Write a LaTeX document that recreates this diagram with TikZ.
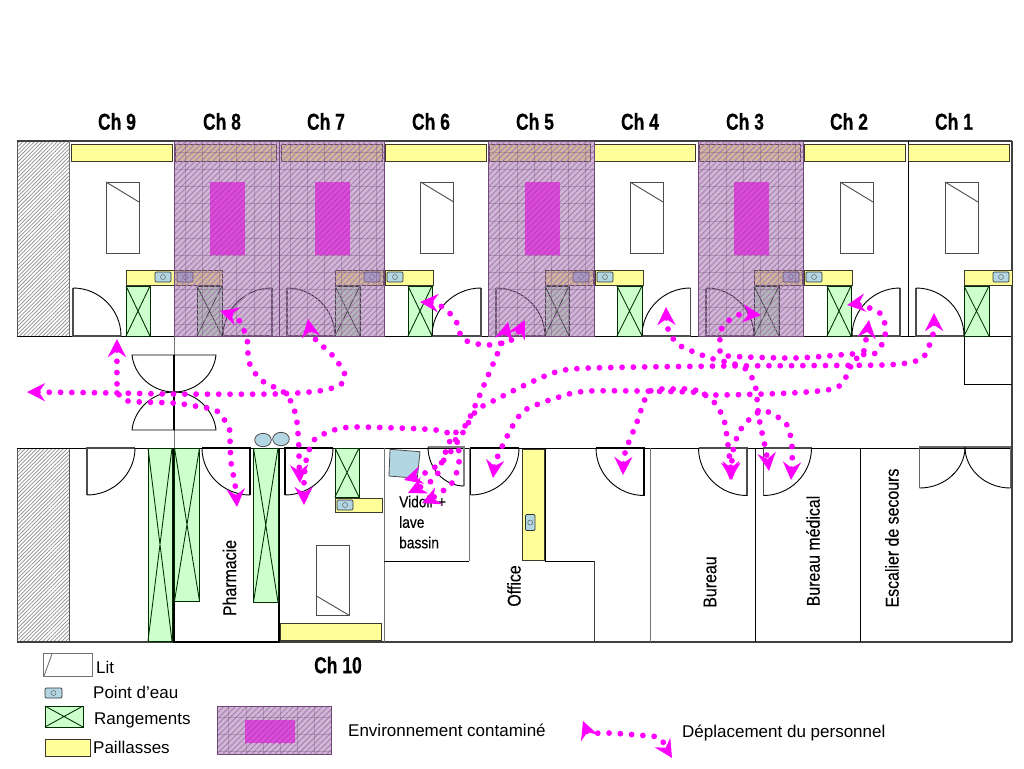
\documentclass[tikz,border=0pt]{standalone}
\usepackage{fontspec}
\setmainfont{Liberation Sans}
\newfontfamily\narrowfont[FakeStretch=.86,FakeBold=.15]{Liberation Sans}
\newfontfamily\titrefont[FakeStretch=.76,FakeBold=.5,UprightFont=* Bold]{Liberation Sans}
\usetikzlibrary{calc}
\usetikzlibrary{arrows.meta}
\usetikzlibrary{patterns.meta}
\definecolor{paille}{RGB}{255,255,153}
\definecolor{range}{RGB}{204,255,204}
\definecolor{eau}{RGB}{178,214,226}
\definecolor{rose}{RGB}{255,0,255}
\definecolor{zone}{RGB}{150,95,160}
\definecolor{hachure}{RGB}{170,125,178}
\definecolor{litzone}{RGB}{218,75,218}
\definecolor{hachlit}{RGB}{188,60,188}
\tikzset{
    mur/.style={draw=black!75, line width=1.1pt},
    murfin/.style={draw=black!55, line width=1pt},
    gaine/.style={draw=black!65, line width=.8pt, pattern={Lines[angle=45,distance=2.7pt,line width=.7pt]}, pattern color=black!45},
    paillasse/.style={fill=paille, draw=black!75!olive, line width=.9pt},
    rangement/.style={fill=range, draw=black!75!green!70!black, line width=.85pt},
    evier/.style={fill=eau, draw=black!80, line width=.7pt, rounded corners=1.2pt},
    lit/.style={draw=black!70, line width=.9pt, fill=white},
    porte/.style={draw=black, line width=.9pt},
    titre/.style={font=\titrefont\fontsize{23}{24}\selectfont},
    piece/.style={font=\narrowfont\fontsize{18.5}{20}\selectfont, rotate=90},
    legende/.style={font=\fontsize{17}{20}\selectfont, anchor=west, inner sep=0pt},
    deplacement/.style={draw=rose, line width=5.8pt, line cap=round, dash pattern=on 0pt off 11.3pt,
        {Stealth[length=18pt,width=18pt,inset=6pt]}-{Stealth[length=18pt,width=18pt,inset=6pt]}},
}
% zone contaminee : voile, hachures et quadrillage
\newcommand{\zonecontam}[4]{
    \begin{scope}
        \clip (#1,#2) rectangle (#3,#4);
        \fill[zone, fill opacity=.45] (#1,#2) rectangle (#3,#4);
        \fill[pattern={Lines[angle=45,distance=4.1pt,line width=.9pt]}, pattern color=hachure] (#1,#2) rectangle (#3,#4);
        \foreach \t in {1,...,12} {
            \draw[zone!70!black, opacity=.3, line width=.8pt] (#1+\t*17.2-6,#2) -- (#1+\t*17.2-6,#4);
            \draw[zone!70!black, opacity=.3, line width=.8pt] (#1,#2+\t*17.2-6) -- (#3,#2+\t*17.2-6);
        }
    \end{scope}
    \draw[zone!75!black, line width=.9pt] (#1,#2) rectangle (#3,#4);
}
% lit dans une zone contaminee
\newcommand{\litcontam}[4]{
    \fill[litzone] (#1,#2) rectangle (#3,#4);
    \fill[pattern={Lines[angle=45,distance=4.1pt,line width=.9pt]}, pattern color=hachlit] (#1,#2) rectangle (#3,#4);
}

\begin{document}
\begin{tikzpicture}[x=1pt, y=-1pt]
    \useasboundingbox (0,0) rectangle (1024,768);

    % Gaines hachurees
    \fill[white] (0,0) rectangle (1024,768);
    \draw[gaine] (17,141) rectangle (69,336);
    \draw[gaine] (17,448) rectangle (69,642);

    % Murs des chambres
    \draw[mur] (17,141) -- (1012,141);
    \draw[black, line width=1pt] (17,336) -- (1012,336);
    \draw[black, line width=1pt] (17,448) -- (1012,448);
    \draw[mur] (17,642) -- (1012,642);
    \draw[mur] (1012,141) -- (1012,642);
    \foreach \x in {174,279,384,488.5,594,698,803,908}
        \draw[black, line width=1pt] (\x,141) -- (\x,336);
    \draw[murfin] (69,141) -- (69,336);
    \draw[murfin] (174,336) -- (174,448);

    % Murs du bas
    \draw[black, line width=1.4pt] (174,448) -- (174,642) -- (279,642) -- (279,448);
    \foreach \x in {755,860}
        \draw[black, line width=1pt] (\x,448) -- (\x,642);
    \foreach \x in {384,650}
        \draw[murfin] (\x,448) -- (\x,642);
    \draw[black, line width=1pt] (384,561) -- (469,561);
    \draw[murfin] (469,448) -- (469,561);
    \draw[black, line width=1pt] (545,448) -- (545,561) -- (594,561);
    \draw[black!75, line width=1pt] (594,561) -- (594,642);
    \draw[black, line width=1pt] (964,336) -- (964,384) -- (1012,384);

    % Paillasses
    \foreach \x in {71,175,281,385,489,594,699,804,908}
        \draw[paillasse] (\x,144) rectangle ++(101,17);
    \foreach \x in {126,174,335,385,545,595,754,804,964}
        \draw[paillasse] (\x,270) rectangle ++(48,15);
    \draw[paillasse] (335,498) rectangle (382,512);
    \draw[paillasse] (280,623) rectangle (381,640);
    \draw[paillasse] (522,449) rectangle (544,560);

    % Points d'eau
    \foreach \x/\y in {155/272,177/272,364/272,387/272,573/272,597/272,783/272,806/272,993/272,337/500}
    {
        \draw[evier] (\x,\y) rectangle ++(16,10);
        \draw[black!60, line width=.5pt] (\x+8,\y+5) circle (2.5);
    }
    \draw[evier] (525.5,514.5) rectangle (535,530.5);
    \draw[black!60, line width=.5pt] (530.2,522.5) circle (2.5);
    \foreach \x/\y in {263/440,281/439}
        \draw[fill=eau, draw=black!70, line width=.8pt] (\x,\y) ellipse (8.3 and 6.7);
    \draw[fill=eau, draw=black!70, line width=.8pt] (390,449.3) -- (420,451.7) -- (417.3,478.3) -- (389,476) -- cycle;

    % Rangements
    \foreach \xa/\ya/\xb/\yb in {126/286/150/336,197/286/222/336,335/286/360/336,408/286/432/336,545/286/569/336,617/286/642/336,754/286/779/336,827/286/851/336,964/286/989/336,148/448/172/641,174.5/448/199.5/601,253.5/448/278/602,335/448/359/497,45/706/83/727}
    {
        \draw[rangement] (\xa,\ya) rectangle (\xb,\yb);
        \draw[rangement] (\xa,\ya) -- (\xb,\yb) (\xb,\ya) -- (\xa,\yb);
    }

    % Lits
    \foreach \x in {106,420.7,630,840,945}
    {
        \draw[lit] (\x,182) rectangle ++(33,71);
        \draw[lit] (\x,182) -- ++(33,20);
    }
    \draw[lit] (316.5,545) rectangle (349.5,615.5);
    \draw[lit] (316.5,596) -- (349.5,615.5);

    % Portes
    \foreach \hx/\jx/\hy/\ly/\coul in {73/121/336/288/black!70,272/223/336/288/black!70,287/335/336/288/black!70,481/432/336/288/black!70,496/545/336/288/black!70,690.5/642/336/288/black!70,706/754/336/288/black!70,900/852/336/288/black!70,916/964/336/288/black!70,
        87/135/448/495/black!70,250/202/448/495/black,285/333/448/495/black,464/428/447/486/black!50,470.5/519/448/495/black,644/596/448/495.5/black,747/698.5/448/495.5/black!70,763.5/811.5/448/495.5/black!70,919.5/965/447/488/black!60,1010.5/965/447/488/black!60}
    {
        \draw[\coul, line width=1.1pt] (\hx,\ly) -- (\hx,\hy) -- (\jx,\hy);
        \draw[porte] (\hx,\ly) .. controls ($(\hx,\ly)!.55!(\jx,\ly)$) and ($(\jx,\hy)!.55!(\jx,\ly)$) .. (\jx,\hy);
    }

    % Double porte du couloir
    \draw[porte] (174,355) -- (132,355) .. controls (134,375) and (152,392) .. (174,392)
        .. controls (196,392) and (214,375) .. (216,355) -- (174,355);
    \draw[porte] (174,430) -- (132,430) .. controls (134,410) and (152,392) .. (174,392)
        .. controls (196,392) and (214,410) .. (216,430) -- (174,430);
    \draw[black, line width=1.2pt] (174,355) -- (174,430);

    % Zones contaminees
    \foreach \xa/\xb in {174/279,279/384,488.5/594,698/803}
    {
        \zonecontam{\xa}{141}{\xb}{336}
    }
    \foreach \x/\xb in {210/245,315/350,524.5/559.5,734/769}
    {
        \litcontam{\x}{182}{\xb}{255}
    }

    % Titres
    \foreach \n/\x in {9/117,8/222,7/326,6/431,5/535,4/640,3/745,2/849,1/954}
        \node[titre] (ch\n) at (\x,121.5) {Ch \n};
    \node[titre] (ch10) at (338,665) {Ch 10};
    \node[piece] (pharmacie) at (229.5,578) {Pharmacie};
    \node[piece] (office) at (514,586) {Office};
    \node[piece] (bureau) at (710,582) {Bureau};
    \node[piece] (bureaumed) at (813,551) {Bureau médical};
    \node[piece] (escalier) at (892,538) {Escalier de secours};
    \node[font=\narrowfont\fontsize{16}{20.5}\selectfont, align=left, anchor=north west, inner sep=0pt] (vidoir) at (399,495.5) {Vidoir +\\lave\\bassin};

    % Legende
    \draw[lit, draw=black!55] (43.5,653.5) rectangle (92.5,676.5);
    \draw[lit, draw=black!55] (44,676) -- (52,654);
    \node[legende] (lit) at (96,667) {Lit};
    \draw[evier] (45,688) rectangle (62,698);
    \draw[black!60, line width=.5pt] (53.5,693) circle (2.5);
    \node[legende] (eau) at (93,692) {Point d’eau};
    \node[legende] (rang) at (94,720) {Rangements};
    \draw[paillasse] (45,739) rectangle (90,756.5);
    \node[legende] (pail) at (93,747) {Paillasses};
    \zonecontam{217.5}{706}{331.5}{754}
    \litcontam{245}{720}{295}{743}
    \node[legende] (envir) at (348,730) {Environnement contaminé};
    \node[legende] (depl) at (682,733) {Déplacement du personnel};

    % Deplacements du personnel
    \begin{scope}[smooth, tension=.45]
        \draw[deplacement] (583,721) .. controls (588,734) and (600,733) .. (612,733) -- (650,736) .. controls (664,736) and (664,745) .. (672,758);
        \draw[deplacement] plot coordinates {(27,392) (117,393) (172,394) (274,394) (319,391) (340,385) (345,375) (334,357) (317,341) (311,333) (308,319)};
        \draw[deplacement] plot coordinates {(117,339) (117,383) (118,393) (128,401) (173,403) (195,406) (217,411) (229,428) (230,440) (231,462) (235,484) (237,507)};
        \draw[deplacement] plot coordinates {(220,311) (238,319) (247,339) (249,362) (261,380) (286,394) (296,416) (299,449) (299,461) (300,483)};
        \draw[deplacement] plot coordinates {(304,505) (304,483) (306,461) (314,440) (334,430) (356,427) (423,429) (446,432) (457,442) (459,462) (452,483) (434,497) (422,503)};
        \draw[deplacement] plot coordinates {(420,302) (439,305) (455,319) (463,339) (485,345) (507,342) (516,336) (525,320)};
        \draw[deplacement] plot coordinates {(508,322) (503,340) (490,371) (467,423) (453,435) (444,456) (437,475) (430,482) (408,493)};
        \draw[deplacement] plot coordinates {(404,480) (425,473) (443,461) (458,441) (476,411) (495,400) (525,385) (556,372) (590,368) (725,366) (882,365) (916,361) (925,355) (933,334) (934,313)};
        \draw[deplacement] plot coordinates {(493,478) (497,458) (512,427) (525,410) (556,398) (589,391) (690,392) (712,395) (791,393) (836,388) (849,371) (853,360) (863,354) (869,320)};
        \draw[deplacement] plot coordinates {(623,475) (625,453) (637,422) (649,392) (672,389) (695,390) (713,401) (724,420) (729,453) (732,480)};
        \draw[deplacement] plot coordinates {(761,315) (738,315) (722,328) (720,351) (728,356) (795,358) (852,354) (874,354) (885,337) (882,315) (861,305) (847,305)};
        \draw[deplacement] plot coordinates {(666,307) (668,329) (679,345) (710,358) (743,367) (755,385) (759,418) (766,451) (769,471)};
        \draw[deplacement] plot coordinates {(791,480) (792,447) (787,425) (771,413) (759,412) (743,426) (734,446) (730,480)};
    \end{scope}
\end{tikzpicture}
\end{document}
